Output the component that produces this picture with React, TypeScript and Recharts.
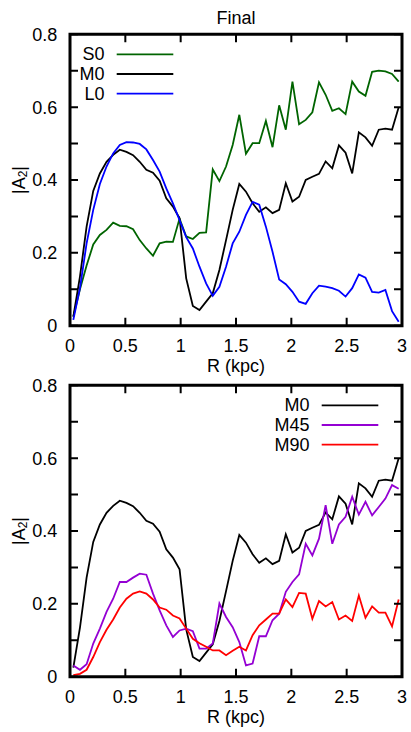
import { LineChart, Line, XAxis, YAxis, Customized } from 'recharts'

// radius bins (kpc)
const R = [
  0.03, 0.09, 0.15, 0.21, 0.27, 0.33, 0.39, 0.45, 0.51, 0.57,
  0.63, 0.69, 0.75, 0.81, 0.87, 0.93, 0.99, 1.05, 1.11, 1.17,
  1.23, 1.29, 1.35, 1.41, 1.47, 1.53, 1.59, 1.65, 1.71, 1.77,
  1.83, 1.89, 1.95, 2.01, 2.07, 2.13, 2.19, 2.25, 2.31, 2.37,
  2.43, 2.49, 2.55, 2.61, 2.67, 2.73, 2.79, 2.85, 2.91, 2.97,
]

const S0 = [
  0.025, 0.1, 0.165, 0.223, 0.249, 0.263, 0.283, 0.274, 0.273, 0.265,
  0.235, 0.212, 0.192, 0.226, 0.231, 0.23, 0.294, 0.245, 0.238, 0.255,
  0.256, 0.429, 0.397, 0.437, 0.496, 0.579, 0.472, 0.501, 0.501, 0.562,
  0.49, 0.605, 0.538, 0.67, 0.553, 0.565, 0.586, 0.668, 0.634, 0.59,
  0.597, 0.581, 0.67, 0.643, 0.631, 0.697, 0.7, 0.698, 0.691, 0.67,
]

const M0 = [
  0.025, 0.135, 0.272, 0.37, 0.418, 0.45, 0.469, 0.483, 0.477, 0.468,
  0.45, 0.428, 0.42, 0.398, 0.35, 0.327, 0.295, 0.13, 0.054, 0.043,
  0.066, 0.089, 0.153, 0.235, 0.318, 0.389, 0.368, 0.336, 0.313, 0.325,
  0.309, 0.318, 0.391, 0.341, 0.354, 0.4, 0.409, 0.417, 0.451, 0.432,
  0.495, 0.475, 0.418, 0.531, 0.517, 0.494, 0.538, 0.541, 0.538, 0.6,
]

const L0 = [
  0.016, 0.103, 0.226, 0.318, 0.389, 0.437, 0.473, 0.496, 0.504, 0.503,
  0.499, 0.484, 0.455, 0.423, 0.377, 0.336, 0.29, 0.243, 0.212, 0.162,
  0.116, 0.082, 0.107, 0.162, 0.226, 0.258, 0.304, 0.34, 0.332, 0.272,
  0.203, 0.127, 0.114, 0.093, 0.066, 0.06, 0.089, 0.11, 0.107, 0.103,
  0.096, 0.08, 0.103, 0.141, 0.132, 0.093, 0.091, 0.098, 0.04, 0.011,
]

const M45 = [
  0.031, 0.019, 0.034, 0.091, 0.132, 0.178, 0.214, 0.26, 0.26, 0.272,
  0.283, 0.28, 0.228, 0.182, 0.141, 0.109, 0.127, 0.132, 0.125, 0.077,
  0.077, 0.091, 0.201, 0.164, 0.136, 0.095, 0.031, 0.036, 0.111, 0.111,
  0.155, 0.173, 0.233, 0.26, 0.281, 0.365, 0.333, 0.379, 0.471, 0.365,
  0.418, 0.439, 0.494, 0.445, 0.48, 0.443, 0.466, 0.489, 0.526, 0.516,
]

const M90 = [
  0.004, 0.008, 0.019, 0.054, 0.095, 0.129, 0.157, 0.19, 0.214, 0.228,
  0.234, 0.228, 0.212, 0.19, 0.184, 0.168, 0.16, 0.132, 0.104, 0.092,
  0.082, 0.072, 0.072, 0.059, 0.071, 0.082, 0.072, 0.114, 0.141, 0.157,
  0.173, 0.173, 0.212, 0.191, 0.23, 0.228, 0.159, 0.208, 0.193, 0.205,
  0.157, 0.168, 0.153, 0.223, 0.162, 0.193, 0.176, 0.176, 0.138, 0.212,
]

const X_DOMAIN: [number, number] = [0, 3]
const Y_DOMAIN: [number, number] = [0, 0.8]
const X_TICKS = [0, 0.5, 1, 1.5, 2, 2.5, 3]
const Y_TICKS = [0, 0.1, 0.2, 0.3, 0.4, 0.5, 0.6, 0.7, 0.8]
const Y_LABELED = [0, 0.2, 0.4, 0.6, 0.8]

const rows = R.map((r, i) => ({ r, s0: S0[i], m0: M0[i], l0: L0[i], m45: M45[i], m90: M90[i] }))

interface Series {
  key: string
  name: string
  color: string
}

const TOP_SERIES: Series[] = [
  { key: 's0', name: 'S0', color: '#006400' },
  { key: 'm0', name: 'M0', color: '#000000' },
  { key: 'l0', name: 'L0', color: '#0000ff' },
]

const BOTTOM_SERIES: Series[] = [
  { key: 'm0', name: 'M0', color: '#000000' },
  { key: 'm45', name: 'M45', color: '#9400d3' },
  { key: 'm90', name: 'M90', color: '#ff0000' },
]

const FONT = '"Liberation Sans", Arial, sans-serif'
const FS = 18
const W = 411
const H = 380
// plot box inside each chart (set through margins + axis sizes below)
const LEFT = 70
const RIGHT = 402
const TOP = 34.3
const BOTTOM = 325.7
const PW = RIGHT - LEFT
const PH = BOTTOM - TOP
const X_AXIS_H = 46
const TICK_LEN = 8

const TICK_TEXT = { fill: '#000', fontSize: FS, fontFamily: FONT }

const px = (v: number) => LEFT + ((v - X_DOMAIN[0]) / (X_DOMAIN[1] - X_DOMAIN[0])) * PW
const py = (v: number) => BOTTOM - ((v - Y_DOMAIN[0]) / (Y_DOMAIN[1] - Y_DOMAIN[0])) * PH

// border + inward ticks on all four sides, as one path
const framePath = () => {
  const parts: string[] = []
  X_TICKS.forEach((t) => {
    parts.push(`M${px(t)},${BOTTOM}V${BOTTOM - TICK_LEN}`)
    parts.push(`M${px(t)},${TOP}V${TOP + TICK_LEN}`)
  })
  Y_TICKS.forEach((t) => {
    parts.push(`M${LEFT},${py(t)}H${LEFT + TICK_LEN}`)
    parts.push(`M${RIGHT},${py(t)}H${RIGHT - TICK_LEN}`)
  })
  return parts.join('')
}

const FrameOverlay = () => (
  <svg
    width={W}
    height={H}
    style={{ position: 'absolute', left: 0, top: 0, pointerEvents: 'none', overflow: 'visible' }}
  >
    <path d={framePath()} stroke="#000" strokeWidth={2} fill="none" />
    <path
      d={`M${LEFT},${TOP}H${RIGHT}V${BOTTOM}H${LEFT}Z`}
      stroke="#000"
      strokeWidth={3}
      fill="none"
      strokeLinejoin="miter"
    />
  </svg>
)

const LegendBox = ({ series, side }: { series: Series[]; side: 'left' | 'right' }) => {
  const x1 = side === 'left' ? LEFT + 46.7 : RIGHT - 80.3
  const x2 = x1 + 56.6
  const tx = x1 - 12.2
  return (
    <g>
      {series.map((s, i) => {
        const y = TOP + 20 + i * 19.7
        return (
          <g key={s.key}>
            <text x={tx} y={y} textAnchor="end" dominantBaseline="central" fontSize={FS} fontFamily={FONT} fill="#000">
              {s.name}
            </text>
            <line x1={x1} x2={x2} y1={y} y2={y} stroke={s.color} strokeWidth={1.8} />
          </g>
        )
      })}
    </g>
  )
}

const YTitle = () => {
  const cx = 19
  const cy = TOP + PH / 2
  return (
    <text
      x={cx}
      y={cy}
      transform={`rotate(-90, ${cx}, ${cy})`}
      textAnchor="middle"
      dominantBaseline="central"
      fontSize={FS}
      fontFamily={FONT}
      fill="#000"
    >
      |A<tspan fontSize={12} dy={4}>2</tspan>
      <tspan dy={-4}>|</tspan>
    </text>
  )
}

const Title = ({ text }: { text: string }) => (
  <text x={LEFT + PW / 2} y={TOP - 10} textAnchor="middle" fontSize={FS} fontFamily={FONT} fill="#000">
    {text}
  </text>
)

interface PanelProps {
  series: Series[]
  legendSide: 'left' | 'right'
  title?: string
}

const Panel = ({ series, legendSide, title }: PanelProps) => (
  <div style={{ position: 'relative', width: W, height: H }}>
    <LineChart
      width={W}
      height={H}
      data={rows}
      margin={{ top: TOP, right: W - RIGHT, bottom: H - BOTTOM - X_AXIS_H, left: 0 }}
    >
      <XAxis
        xAxisId="b"
        dataKey="r"
        type="number"
        domain={X_DOMAIN}
        ticks={X_TICKS}
        height={X_AXIS_H}
        axisLine={false}
        tickLine={false}
        tickSize={0}
        tickMargin={13.6}
        tick={TICK_TEXT}
        label={{ value: 'R (kpc)', position: 'insideBottom', offset: 0, fill: '#000', fontSize: FS, fontFamily: FONT }}
      />
      <YAxis
        yAxisId="l"
        type="number"
        domain={Y_DOMAIN}
        ticks={Y_TICKS}
        width={LEFT}
        axisLine={false}
        tickLine={false}
        tickSize={0}
        tickMargin={12.7}
        tick={TICK_TEXT}
        tickFormatter={(v: number) => (Y_LABELED.includes(v) ? String(v) : '')}
      />
      {series.map((s) => (
        <Line
          key={s.key}
          xAxisId="b"
          yAxisId="l"
          type="linear"
          dataKey={s.key}
          name={s.name}
          stroke={s.color}
          strokeWidth={1.8}
          dot={false}
          isAnimationActive={false}
        />
      ))}
      <Customized component={<LegendBox series={series} side={legendSide} />} />
      <Customized component={<YTitle />} />
      {title && <Customized component={<Title text={title} />} />}
    </LineChart>
    <FrameOverlay />
  </div>
)

export default function App() {
  return (
    <div style={{ position: 'absolute', left: 0, top: 0, width: W, height: 732, background: '#fff', fontFamily: FONT }}>
      <div style={{ position: 'absolute', left: 0, top: 0 }}>
        <Panel series={TOP_SERIES} legendSide="left" title="Final" />
      </div>
      <div style={{ position: 'absolute', left: 0, top: 351 }}>
        <Panel series={BOTTOM_SERIES} legendSide="right" />
      </div>
    </div>
  )
}
